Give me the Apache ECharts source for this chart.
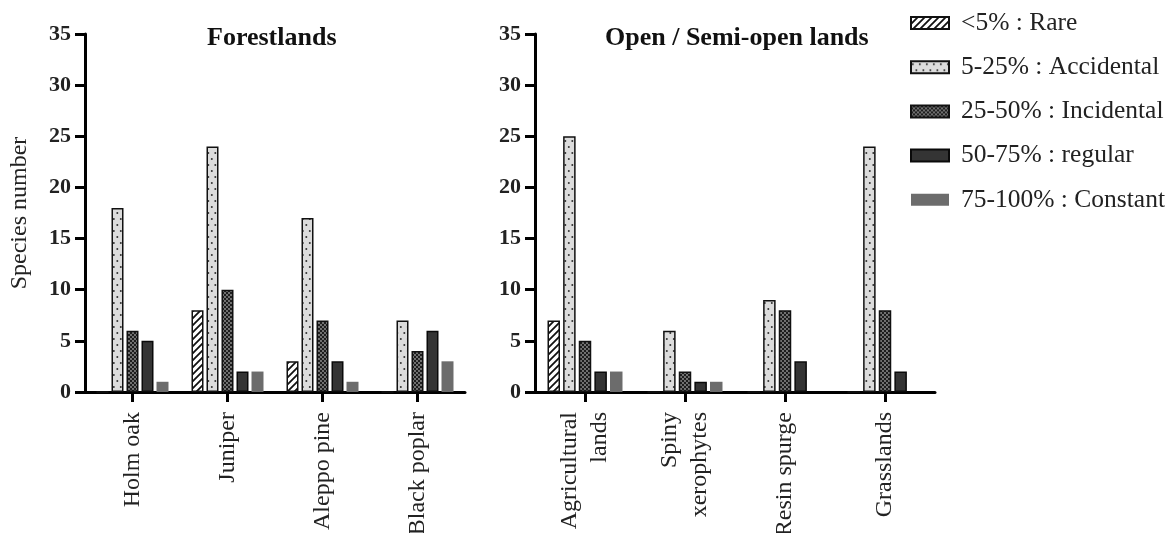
<!DOCTYPE html>
<html>
<head>
<meta charset="utf-8">
<script src="https://cdn.jsdelivr.net/npm/echarts@6/dist/echarts.min.js"></script>
<style>
  html, body { margin: 0; padding: 0; background: #fff; }
  #chart { width: 1167px; height: 533px; }
</style>
</head>
<body>
<div id="chart"></div>
<script>
// Frequency classes
const classNames = ['<5% : Rare', '5-25% : Accidental', '25-50% : Incidental', '50-75% : regular', '75-100% : Constant'];

// Forestlands
const forestCategories = ['Holm oak', 'Juniper', 'Aleppo pine', 'Black poplar'];
const forestRare       = [0, 8, 3, 0];
const forestAccidental = [18, 24, 17, 7];
const forestIncidental = [6, 10, 7, 4];
const forestRegular    = [5, 2, 3, 6];
const forestConstant   = [1, 2, 1, 3];

// Open / semi-open lands
const openCategories = ['Agricultural\nlands', 'Spiny\nxerophytes', 'Resin spurge', 'Grasslands'];
const openRare       = [7, 0, 0, 0];
const openAccidental = [25, 6, 9, 24];
const openIncidental = [5, 2, 8, 8];
const openRegular    = [2, 1, 3, 2];
const openConstant   = [2, 1, 0, 0];

const yTicks = { min: 0, max: 35, interval: 5 };

const FONT = '"Liberation Serif", serif';

// ---- fill patterns ----
function makeCanvas(w, h) {
  const c = document.createElement('canvas');
  c.width = w; c.height = h;
  return c;
}
function hatchPattern() {
  const c = makeCanvas(7, 7), g = c.getContext('2d');
  g.fillStyle = '#ffffff'; g.fillRect(0, 0, 7, 7);
  g.strokeStyle = '#111'; g.lineWidth = 1.8;
  g.beginPath();
  g.moveTo(-1, 8); g.lineTo(8, -1);
  g.moveTo(-4.5, 4.5); g.lineTo(4.5, -4.5);
  g.moveTo(2.5, 11.5); g.lineTo(11.5, 2.5);
  g.stroke();
  return c;
}
function dotPattern() {
  const c = makeCanvas(7, 12), g = c.getContext('2d');
  g.fillStyle = '#dcdcdc'; g.fillRect(0, 0, 7, 12);
  g.fillStyle = '#333';
  g.beginPath(); g.arc(1.8, 3, 1.0, 0, Math.PI * 2); g.fill();
  g.beginPath(); g.arc(5.3, 9, 1.0, 0, Math.PI * 2); g.fill();
  return c;
}
function checkPattern() {
  const c = makeCanvas(4, 4), g = c.getContext('2d');
  g.fillStyle = '#1e1e1e'; g.fillRect(0, 0, 4, 4);
  g.fillStyle = '#9a9a9a';
  g.beginPath(); g.arc(1, 1, 0.9, 0, Math.PI * 2); g.fill();
  g.beginPath(); g.arc(3, 3, 0.9, 0, Math.PI * 2); g.fill();
  return c;
}

const styles = [
  { color: { image: hatchPattern(), repeat: 'repeat' }, borderColor: '#111', borderWidth: 1.5 },
  { color: { image: dotPattern(), repeat: 'repeat' }, borderColor: '#111', borderWidth: 1.5 },
  { color: { image: checkPattern(), repeat: 'repeat' }, borderColor: '#111', borderWidth: 1.5 },
  { color: '#343434', borderColor: '#0a0a0a', borderWidth: 1.5 },
  { color: '#6c6c6c', borderWidth: 0 }
];

const forestSets = [forestRare, forestAccidental, forestIncidental, forestRegular, forestConstant];
const openSets   = [openRare, openAccidental, openIncidental, openRegular, openConstant];

function makeSeries(sets, axisIndex, width) {
  return sets.map((vals, i) => ({
    name: classNames[i],
    type: 'bar',
    xAxisIndex: axisIndex,
    yAxisIndex: axisIndex,
    barWidth: width,
    barGap: '25%',
    itemStyle: styles[i],
    emphasis: { disabled: true },
    data: vals
  }));
}

const axisLineStyle = { color: '#000', width: 3 };

function xAxisFor(cats, gridIndex) {
  return {
    type: 'category',
    gridIndex: gridIndex,
    data: cats,
    axisLine: { show: true, lineStyle: axisLineStyle },
    axisTick: { show: true, alignWithLabel: true, length: 10, lineStyle: axisLineStyle },
    axisLabel: {
      rotate: 90, margin: 20, interval: 0,
      fontFamily: FONT, fontSize: 24, color: '#222', lineHeight: 30
    },
    splitLine: { show: false }
  };
}
function yAxisFor(gridIndex, withName) {
  const ax = {
    type: 'value',
    gridIndex: gridIndex,
    min: yTicks.min, max: yTicks.max, interval: yTicks.interval,
    axisLine: { show: true, lineStyle: axisLineStyle },
    axisTick: { show: true, length: 10, lineStyle: axisLineStyle },
    axisLabel: { margin: 14, fontFamily: FONT, fontSize: 22, fontWeight: 'bold', color: '#222' },
    splitLine: { show: false }
  };
  if (withName) {
    ax.name = 'Species number';
    ax.nameLocation = 'middle';
    ax.nameGap = 53;
    ax.nameTextStyle = { fontFamily: FONT, fontSize: 24, color: '#222' };
  }
  return ax;
}

const chart = echarts.init(document.getElementById('chart'), null, { renderer: 'canvas' });
chart.setOption({
  animation: false,
  backgroundColor: '#fff',
  title: [
    { text: 'Forestlands', left: 202, top: 20,
      textStyle: { fontFamily: FONT, fontSize: 26, fontWeight: 'bold', color: '#111' } },
    { text: 'Open / Semi-open lands', left: 600, top: 20,
      textStyle: { fontFamily: FONT, fontSize: 26, fontWeight: 'bold', color: '#111' } }
  ],
  legend: {
    orient: 'vertical',
    left: 905, top: 5,
    itemWidth: 38, itemHeight: 12,
    itemGap: 18.2,
    icon: 'rect',
    selectedMode: false,
    data: classNames,
    textStyle: { fontFamily: FONT, fontSize: 25.5, color: '#222', lineHeight: 25, padding: [0, 0, 0, 7] }
  },
  grid: [
    { left: 85, right: 1167 - 465, top: 34, bottom: 533 - 392, containLabel: false, outerBoundsMode: 'none' },
    { left: 535, right: 1167 - 935, top: 34, bottom: 533 - 392, containLabel: false, outerBoundsMode: 'none' }
  ],
  xAxis: [xAxisFor(forestCategories, 0), xAxisFor(openCategories, 1)],
  yAxis: [yAxisFor(0, true), yAxisFor(1, false)],
  series: makeSeries(forestSets, 0, 12).concat(makeSeries(openSets, 1, 12.5))
});
</script>
</body>
</html>
